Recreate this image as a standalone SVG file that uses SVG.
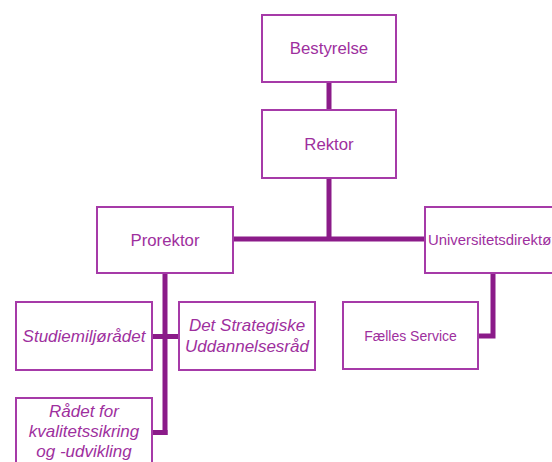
<svg xmlns="http://www.w3.org/2000/svg" width="552" height="462" viewBox="0 0 552 462">
<style>
.box{fill:#fff;stroke:#A63AA8;stroke-width:2}
.t{font-family:"Liberation Sans",Arial,sans-serif;font-size:16.8px;fill:#9E2F9E;text-anchor:middle}
.i{font-style:italic;font-size:17px}
.c{fill:none;stroke:#8B1B89;stroke-width:5}
</style>
<rect width="552" height="462" fill="#fff"/>
<g id="connectors">
<line class="c" x1="329" y1="82" x2="329" y2="110"/>
<polyline class="c" points="329,178 329,239"/>
<line class="c" x1="233" y1="239" x2="425" y2="239"/>
<polyline class="c" points="493,273 493,336 478,336"/>
<line class="c" x1="165" y1="273" x2="165" y2="435"/>
<line class="c" x1="152" y1="336.5" x2="179" y2="336.5"/>
<line class="c" x1="152" y1="432.5" x2="167.5" y2="432.5"/>
</g>
<g id="bestyrelse"><rect class="box" x="262" y="15" width="134" height="67"/><text class="t" x="329" y="54">Bestyrelse</text></g>
<g id="rektor"><rect class="box" x="262" y="110" width="134" height="68"/><text class="t" x="329" y="150">Rektor</text></g>
<g id="prorektor"><rect class="box" x="97" y="207" width="136" height="66"/><text class="t" x="165" y="246">Prorektor</text></g>
<g id="universitetsdirektor"><rect class="box" x="425" y="207" width="140" height="66"/><text class="t" x="428" y="245" style="text-anchor:start;font-size:14.9px">Universitetsdirektø</text></g>
<g id="faelles-service"><rect class="box" x="343" y="302" width="135" height="67"/><text class="t" x="410.5" y="341" style="font-size:14px">Fælles Service</text></g>
<g id="studiemiljoradet"><rect class="box" x="16" y="302" width="136" height="68"/><text class="t i" x="84" y="342">Studiemiljørådet</text></g>
<g id="strategiske"><rect class="box" x="179" y="302" width="136" height="68"/><text class="t i" x="247" y="331">Det Strategiske</text><text class="t i" x="247" y="352">Uddannelsesråd</text></g>
<g id="raadet"><rect class="box" x="16" y="398" width="136" height="80"/><text class="t i" x="84" y="417">Rådet for</text><text class="t i" x="84" y="437">kvalitetssikring</text><text class="t i" x="84" y="457">og -udvikling</text></g>
</svg>
